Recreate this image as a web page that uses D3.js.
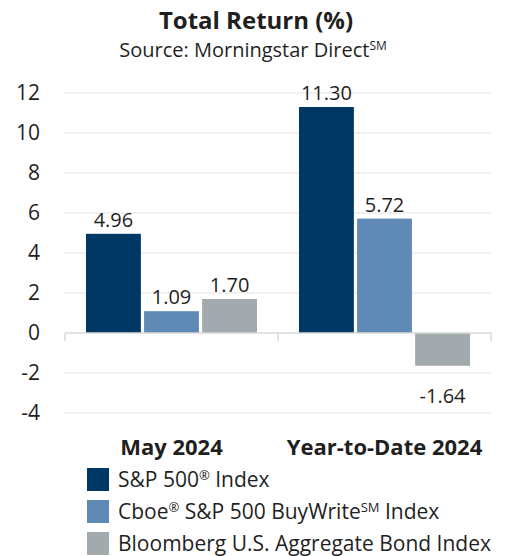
<!DOCTYPE html>
<meta charset="utf-8">
<style>
  body { margin: 0; background: #fff; }
  svg text { font-family: "Open Sans", "Noto Sans", sans-serif; fill: #1f1f1f; }
</style>
<svg width="511" height="556"></svg>
<script src="https://cdn.jsdelivr.net/npm/d3@7"></script>
<script>
var periods = ["May 2024", "Year-to-Date 2024"];
var seriesNames = ["S&P 500® Index", "Cboe® S&P 500 BuyWrite℠ Index", "Bloomberg U.S. Aggregate Bond Index"];
var sp500 = [4.96, 11.30];
var buyWrite = [1.09, 5.72];
var bondIdx = [1.70, -1.64];
var yTicks = [-4, -2, 0, 2, 4, 6, 8, 10, 12];
var colors = ["#003865", "#5f8ab5", "#a2aaad"];

var values = [sp500, buyWrite, bondIdx];

var svg = d3.select("svg");

var x0 = d3.scaleBand().domain(periods).range([65, 491]).paddingInner(0).paddingOuter(0);
var x1 = d3.scaleBand().domain(d3.range(3)).range([21, x0.bandwidth() - 21]).paddingInner(0.055).paddingOuter(0);
var y = d3.scaleLinear().domain([-4, 12]).range([413, 93]);

// gridlines
svg.append("g").selectAll("line").data(yTicks.filter(function(d){ return d !== 0; }))
  .join("line")
  .attr("x1", 65).attr("x2", 491)
  .attr("y1", function(d){ return y(d); }).attr("y2", function(d){ return y(d); })
  .attr("stroke", "#ececec").attr("stroke-width", 1.3);

// y labels
svg.append("g").selectAll("text").data(yTicks)
  .join("text")
  .attr("x", 40).attr("y", function(d){ return y(d) + 7; })
  .attr("text-anchor", "end")
  .style("font-size", "21px")
  .text(function(d){ return d; });

// bars
var groups = svg.append("g").selectAll("g").data(periods).join("g")
  .attr("transform", function(d){ return "translate(" + x0(d) + ",0)"; });

groups.each(function(p, pi) {
  var g = d3.select(this);
  values.forEach(function(arr, si) {
    var v = arr[pi];
    g.append("rect")
      .attr("x", x1(si))
      .attr("width", x1.bandwidth())
      .attr("y", y(Math.max(0, v)))
      .attr("height", Math.abs(y(v) - y(0)))
      .attr("fill", colors[si]);
    g.append("text")
      .attr("x", x1(si) + x1.bandwidth() / 2)
      .attr("y", v >= 0 ? y(v) - 7 : y(v) + 37)
      .attr("text-anchor", "middle")
      .style("font-size", "20px")
      .text(v.toFixed(2));
  });
});

// zero axis with ticks
var axis = svg.append("g").attr("stroke", "#d9d9d9").attr("stroke-width", 1.5);
axis.append("line").attr("x1", 65).attr("x2", 491).attr("y1", y(0)).attr("y2", y(0));
[65, x0(periods[1]), 491].forEach(function(xx) {
  axis.append("line").attr("x1", xx).attr("x2", xx).attr("y1", y(0)).attr("y2", y(0) + 8);
});

// category labels
svg.append("g").selectAll("text").data(periods).join("text")
  .attr("x", function(d){ return x0(d) + x0.bandwidth() / 2; })
  .attr("y", 455)
  .attr("text-anchor", "middle")
  .style("font-size", "22px").style("font-weight", "bold")
  .text(function(d){ return d; });

// title
svg.append("text").attr("x", 256).attr("y", 29).attr("text-anchor", "middle")
  .style("font-size", "24px").style("font-weight", "bold").text("Total Return (%)");
var sub = svg.append("text").attr("x", 253).attr("y", 57).attr("text-anchor", "middle")
  .style("font-size", "20px");
sub.append("tspan").text("Source: Morningstar Direct");
sub.append("tspan").attr("dy", -7).style("font-size", "12px").text("SM");

// legend
var legendLabels = [
  [["S&P 500", 0], ["®", 1], [" Index", 0]],
  [["Cboe", 0], ["®", 1], [" S&P 500 BuyWrite", 0], ["SM", 1], [" Index", 0]],
  [["Bloomberg U.S. Aggregate Bond Index", 0]]
];
var leg = svg.append("g").selectAll("g").data(seriesNames).join("g")
  .attr("transform", function(d, i){ return "translate(87," + (468 + i * 32) + ")"; });
leg.append("rect").attr("width", 22).attr("height", 23).attr("fill", function(d, i){ return colors[i]; });
leg.append("text").attr("x", 31).attr("y", 19).style("font-size", "21px")
  .each(function(d, i) {
    var t = d3.select(this);
    var raised = 0;
    legendLabels[i].forEach(function(part) {
      var shift = part[1] ? -7 : 0;
      t.append("tspan")
        .attr("dy", shift - raised)
        .style("font-size", part[1] ? "13px" : "21px")
        .text(part[0]);
      raised = shift;
    });
  });
</script>
